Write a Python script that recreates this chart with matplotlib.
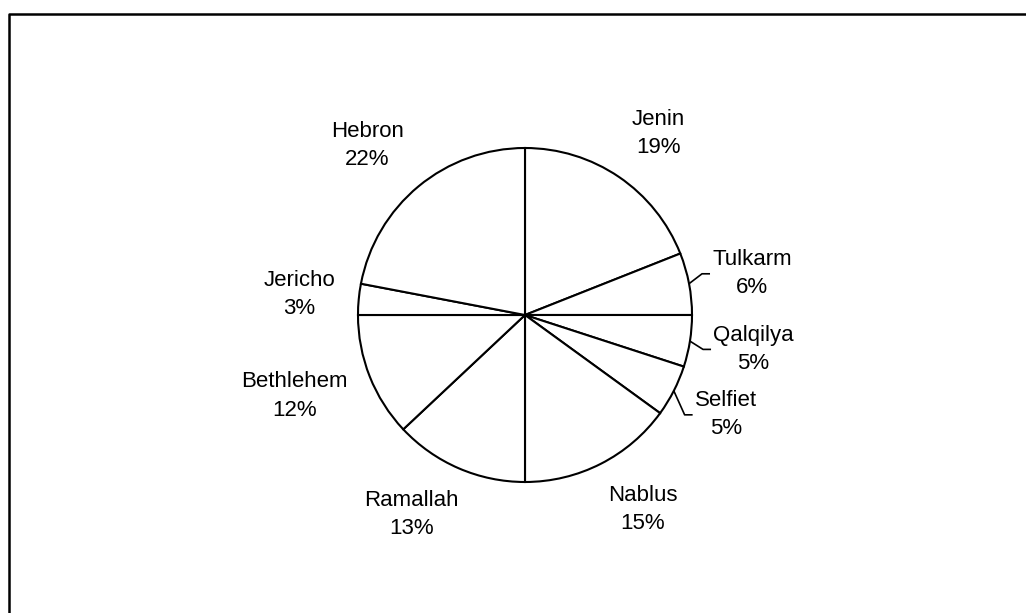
import numpy as np
import matplotlib
matplotlib.use("Agg")
import matplotlib.pyplot as plt
from matplotlib.lines import Line2D

districts = ["Jenin", "Tulkarm", "Qalqilya", "Selfiet", "Nablus",
             "Ramallah", "Bethlehem", "Jericho", "Hebron"]
shares = [19, 6, 5, 5, 15, 13, 12, 3, 22]
# slices whose labels sit off to the side with an elbow leader
leader_labels = ["Tulkarm", "Qalqilya", "Selfiet"]

plt.rcParams["font.family"] = ["Liberation Sans", "DejaVu Sans"]

W, H = 1026, 613
fig = plt.figure(figsize=(W / 100, H / 100), dpi=100)

# pie centre and radius in pixels
cx, cy, R = 525, 315, 167
half = 290
ax = fig.add_axes([(cx - half) / W, (H - cy - half) / H, 2 * half / W, 2 * half / H])

wedges, _ = ax.pie(shares, startangle=90, counterclock=False, radius=1.0,
                   colors=["white"] * len(shares),
                   wedgeprops=dict(edgecolor="black", linewidth=1.5))
ax.set_xlim(-half / R, half / R)
ax.set_ylim(-half / R, half / R)
ax.set_aspect("equal")
ax.axis("off")

texts = []
for w, name, val in zip(wedges, districts, shares):
    mid = np.deg2rad((w.theta1 + w.theta2) / 2)
    t = ax.text(0, 0, f"{name}\n{val}%", ha="center", va="center",
                fontsize=16, linespacing=1.45)
    texts.append((t, mid, name))

fig.canvas.draw()
renderer = fig.canvas.get_renderer()

# push each label out along its slice, shifting the box so its near corner
# sits just outside the rim
dist = 1.14
for t, mid, name in texts:
    bb = t.get_window_extent(renderer)
    hw = bb.width / 2 / R
    hh = bb.height / 2 / R
    c, s = np.cos(mid), np.sin(mid)
    fx = np.clip(2 * c, -1, 1)
    fy = np.clip(1.2 * s, -1, 1)
    t.set_position((dist * c + hw * fx, dist * s + hh * fy))

# elbow leader lines from the rim to the left edge of the label
fig.canvas.draw()
inv = ax.transData.inverted()
for t, mid, name in texts:
    if name not in leader_labels:
        continue
    bb = t.get_window_extent(renderer)
    x0, y0 = inv.transform((bb.x0, (bb.y0 + bb.y1) / 2))
    ex, ey = np.cos(mid), np.sin(mid)
    ax.plot([ex, x0 - 10 / R, x0 - 2 / R], [ey, y0, y0],
            color="black", linewidth=1.2, solid_capstyle="butt")

# outer border, only the top and left edges fall inside the image
fig.add_artist(Line2D([9 / W, 9 / W, 1.02], [-0.02, 1 - 14 / H, 1 - 14 / H],
                      color="black", linewidth=1.8, transform=fig.transFigure))

fig.savefig("out.png", dpi=100, facecolor="white")
